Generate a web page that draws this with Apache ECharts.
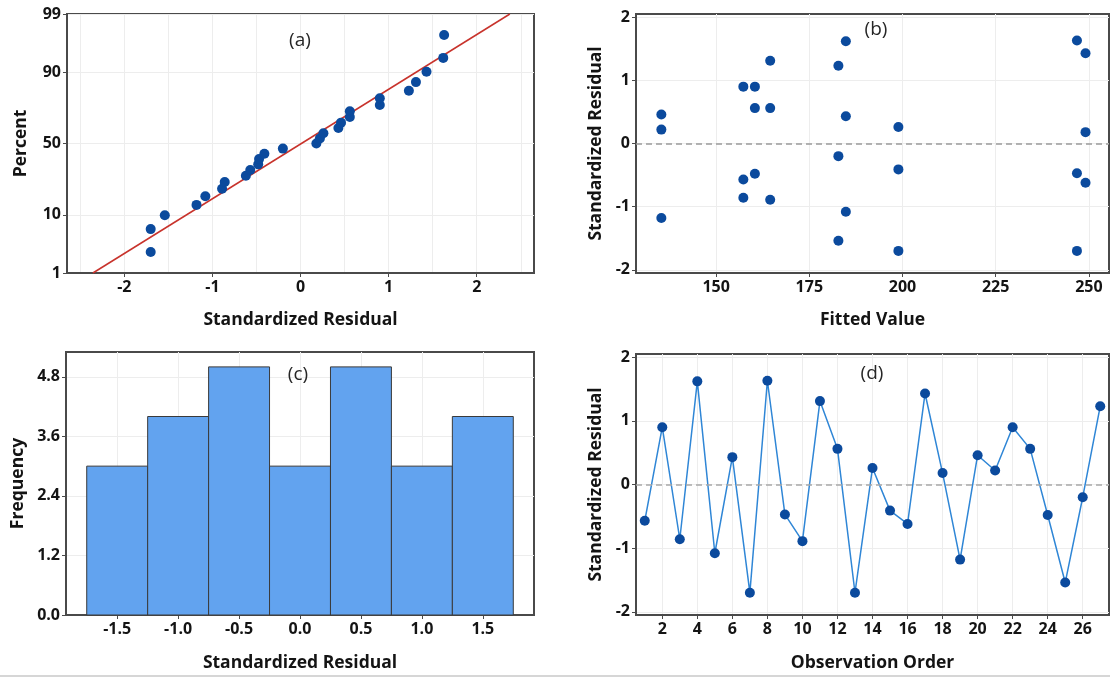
<!DOCTYPE html>
<html>
<head>
<meta charset="utf-8">
<title>Residual plots</title>
<script src="https://cdn.jsdelivr.net/npm/echarts@6/dist/echarts.min.js"></script>
<style>
	html, body { margin: 0; padding: 0; background: #fff; }
	#main { width: 1110px; height: 682px; }
</style>
</head>
<body>
<div id="main"></div>
<script>
	var residuals = [-0.57, 0.90, -0.86, 1.62, -1.08, 0.43, -1.70, 1.63, -0.47,
		-0.89, 1.31, 0.56, -1.70, 0.26, -0.41, -0.62, 1.43, 0.18,
		-1.18, 0.46, 0.22, 0.90, 0.56, -0.48, -1.54, -0.20, 1.23];
	// fitted value of each observation (panel b)
	var fittedValues = [157.3, 157.3, 157.3, 184.8, 184.8, 184.8, 246.8, 246.8, 246.8,
		164.5, 164.5, 164.5, 198.9, 198.9, 198.9, 249.1, 249.1, 249.1,
		135.3, 135.3, 135.3, 160.4, 160.4, 160.4, 182.8, 182.8, 182.8];
	// histogram (panel c)
	var binMids = [-1.5, -1.0, -0.5, 0.0, 0.5, 1.0, 1.5];
	var binCounts = [3, 4, 5, 3, 5, 3, 4];
	var binWidth = 0.5;
	// fitted normal line of the probability plot (panel a)
	var fitMean = 0.01;
	var fitSd = 1.017;
	var fitPercents = [1, 99];

	// tick labels
	var percentTicks = [1, 10, 50, 90, 99];
	var probXTicks = [-2, -1, 0, 1, 2];
	var fittedTicks = [150, 175, 200, 225, 250];
	var residTicks = [-2, -1, 0, 1, 2];
	var freqTicks = [0, 1.2, 2.4, 3.6, 4.8];
	var histTicks = [-1.5, -1.0, -0.5, 0.0, 0.5, 1.0, 1.5];
	var orderTicks = [2, 4, 6, 8, 10, 12, 14, 16, 18, 20, 22, 24, 26];

	// inverse normal cdf (Acklam), used for the probability axis
	function probit(p) {
		var a = [-3.969683028665376e+01, 2.209460984245205e+02, -2.759285104469687e+02, 1.383577518672690e+02, -3.066479806614716e+01, 2.506628277459239e+00];
		var b = [-5.447609879822406e+01, 1.615858368580409e+02, -1.556989798598866e+02, 6.680131188771972e+01, -1.328068155288572e+01];
		var c = [-7.784894002430293e-03, -3.223964580411365e-01, -2.400758277161838e+00, -2.549732539343734e+00, 4.374664141464968e+00, 2.938163982698783e+00];
		var d = [7.784695709041462e-03, 3.224671290700398e-01, 2.445134137142996e+00, 3.754408661907416e+00];
		var pl = 0.02425, q, r;
		if(p < pl) {
			q = Math.sqrt(-2 * Math.log(p));
			return (((((c[0] * q + c[1]) * q + c[2]) * q + c[3]) * q + c[4]) * q + c[5]) / ((((d[0] * q + d[1]) * q + d[2]) * q + d[3]) * q + 1);
		}
		if(p > 1 - pl) {
			q = Math.sqrt(-2 * Math.log(1 - p));
			return -(((((c[0] * q + c[1]) * q + c[2]) * q + c[3]) * q + c[4]) * q + c[5]) / ((((d[0] * q + d[1]) * q + d[2]) * q + d[3]) * q + 1);
		}
		q = p - 0.5;
		r = q * q;
		return (((((a[0] * r + a[1]) * r + a[2]) * r + a[3]) * r + a[4]) * r + a[5]) * q / (((((b[0] * r + b[1]) * r + b[2]) * r + b[3]) * r + b[4]) * r + 1);
	}

	// probability plot: sorted residuals against median ranks (i-0.3)/(n+0.4)
	var sortedRes = residuals.slice().sort(function(x, y) { return x - y; });
	var n = sortedRes.length;
	var probPoints = sortedRes.map(function(v, i) {
		return [v, probit((i + 1 - 0.3) / (n + 0.4))];
	});
	var zTicks = percentTicks.map(function(p) { return probit(p / 100); });
	var fitLine = fitPercents.map(function(p) {
		var z = probit(p / 100);
		return [fitMean + fitSd * z, z];
	});
	var fitPoints = fittedValues.map(function(f, i) { return [f, residuals[i]]; });
	var orderPoints = residuals.map(function(r, i) { return [i + 1, r]; });
	var histData = binMids.map(function(m, i) { return [m, binCounts[i]]; });

	var axisColor = '#4a4a4a';
	var gridColor = '#ededed';
	var font = '"Open Sans", "Noto Sans", sans-serif';
	var markColor = '#0b4a9d';

	function valueAxis(gridIndex, min, max, ticks, fmt, name, gap) {
		return {
			type: 'value',
			gridIndex: gridIndex,
			min: min,
			max: max,
			name: name,
			nameLocation: 'middle',
			nameGap: gap,
			nameTextStyle: { color: '#141414', fontSize: 17.5, fontWeight: 'bold', fontFamily: font },
			axisLine: { show: true, onZero: false, lineStyle: { color: axisColor, width: 2 } },
			axisTick: { show: true, length: 4, customValues: ticks, lineStyle: { color: axisColor, width: 1 } },
			axisLabel: {
				customValues: ticks,
				formatter: fmt,
				margin: 6,
				color: '#141414',
				fontSize: 16,
				fontWeight: 'bold',
				fontFamily: font
			},
			splitLine: { show: true, lineStyle: { color: gridColor, width: 1 } }
		};
	}

	function plain(v) { return String(v); }
	function oneDec(v) { return v.toFixed(1); }
	function percentFmt(v) {
		for(var i = 0; i < zTicks.length; i++) {
			if(Math.abs(zTicks[i] - v) < 1e-6) return String(percentTicks[i]);
		}
		return '';
	}

	function panelLabel(text, x, y) {
		return {
			type: 'text',
			x: x,
			y: y,
			z: 100,
			style: {
				text: text,
				textAlign: 'center',
				textVerticalAlign: 'middle',
				align: 'center',
				verticalAlign: 'middle',
				fill: '#262626',
				font: '19px "Open Sans"'
			}
		};
	}

	var xa = valueAxis(0, -2.65, 2.65, probXTicks, plain, 'Standardized Residual', 38);
	xa.minInterval = 1;
	xa.maxInterval = 1;
	xa.minorTick = { show: false, splitNumber: 2 };
	xa.minorSplitLine = { show: true, lineStyle: { color: gridColor, width: 1 } };

	var chart = echarts.init(document.getElementById('main'));
	var option = {
		animation: false,
		backgroundColor: '#fff',
		textStyle: { fontFamily: font },
		grid: [
			{ left: 67, top: 14, width: 467, height: 259, show: true, borderColor: axisColor, borderWidth: 2, outerBoundsMode: 'none' },
			{ left: 636, top: 14, width: 473, height: 259, show: true, borderColor: axisColor, borderWidth: 2, outerBoundsMode: 'none' },
			{ left: 66, top: 352, width: 468, height: 263, show: true, borderColor: axisColor, borderWidth: 2, outerBoundsMode: 'none' },
			{ left: 636, top: 354, width: 473, height: 261, show: true, borderColor: axisColor, borderWidth: 2, outerBoundsMode: 'none' }
		],
		xAxis: [
			xa,
			valueAxis(1, 128.5, 255.4, fittedTicks, plain, 'Fitted Value', 38),
			valueAxis(2, -1.92, 1.92, histTicks, oneDec, 'Standardized Residual', 39),
			valueAxis(3, 0.5, 27.5, orderTicks, plain, 'Observation Order', 39)
		],
		yAxis: [
			valueAxis(0, zTicks[0], zTicks[zTicks.length - 1], zTicks, percentFmt, 'Percent', 37),
			valueAxis(1, -2.05, 2.05, residTicks, plain, 'Standardized Residual', 31),
			valueAxis(2, 0, 5.3, freqTicks, oneDec, 'Frequency', 39),
			valueAxis(3, -2.05, 2.05, residTicks, plain, 'Standardized Residual', 31)
		],
		graphic: [
			panelLabel('(a)', 300, 41),
			panelLabel('(b)', 876, 30),
			panelLabel('(c)', 298, 375),
			panelLabel('(d)', 872, 374),
			{ type: 'line', shape: { x1: 0, y1: 676, x2: 1110, y2: 676 }, style: { stroke: '#c8c8c8', lineWidth: 1.5 } }
		],
		series: [
			{
				type: 'line',
				xAxisIndex: 0,
				yAxisIndex: 0,
				data: fitLine,
				showSymbol: false,
				symbol: 'none',
				lineStyle: { color: '#c8332c', width: 1.5 },
				silent: true,
				z: 2
			},
			{
				type: 'scatter',
				xAxisIndex: 0,
				yAxisIndex: 0,
				data: probPoints,
				symbolSize: 10,
				itemStyle: { color: markColor, opacity: 1 },
				z: 3
			},
			{
				type: 'scatter',
				xAxisIndex: 1,
				yAxisIndex: 1,
				data: fitPoints,
				symbolSize: 10,
				itemStyle: { color: markColor, opacity: 1 },
				markLine: {
					silent: true,
					symbol: 'none',
					label: { show: false },
					lineStyle: { color: '#9a9a9a', type: [6, 4], width: 1.5 },
					data: [{ yAxis: 0 }]
				}
			},
			{
				type: 'custom',
				xAxisIndex: 2,
				yAxisIndex: 2,
				data: histData,
				renderItem: function(params, api) {
					var mid = api.value(0);
					var cnt = api.value(1);
					var p0 = api.coord([mid - binWidth / 2, cnt]);
					var p1 = api.coord([mid + binWidth / 2, 0]);
					return {
						type: 'rect',
						shape: { x: p0[0], y: p0[1], width: p1[0] - p0[0], height: p1[1] - p0[1] },
						style: { fill: '#62a3ef', stroke: '#3a3a3a', lineWidth: 1 }
					};
				}
			},
			{
				type: 'line',
				xAxisIndex: 3,
				yAxisIndex: 3,
				data: orderPoints,
				symbol: 'circle',
				symbolSize: 10,
				showSymbol: true,
				lineStyle: { color: '#2f86d6', width: 1.5 },
				itemStyle: { color: markColor, borderWidth: 0 },
				markLine: {
					silent: true,
					symbol: 'none',
					label: { show: false },
					lineStyle: { color: '#a8a8a8', type: [6, 4], width: 1.5 },
					data: [{ yAxis: 0 }]
				}
			}
		]
	};
	chart.setOption(option);
</script>
</body>
</html>
